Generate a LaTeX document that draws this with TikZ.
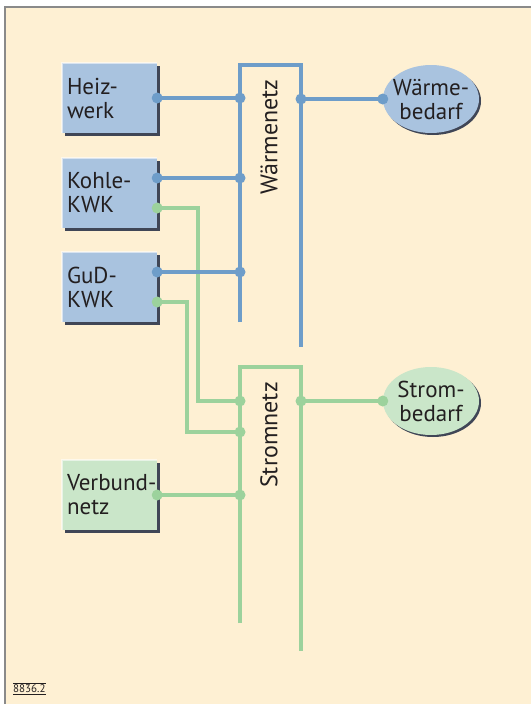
\documentclass[tikz,border=0pt]{standalone}
\usepackage{fontspec}
\setmainfont{PT Sans}
\usetikzlibrary{shapes.geometric,calc}
\definecolor{bgc}{HTML}{FEF0D3}
\definecolor{boxblue}{HTML}{A9C3DF}
\definecolor{boxgreen}{HTML}{CAE6C9}
\definecolor{lblue}{HTML}{6E9DC9}
\definecolor{lgreen}{HTML}{9CD29C}
\definecolor{shade}{HTML}{404656}
\definecolor{framec}{HTML}{8A8A8A}
\definecolor{txt}{HTML}{231F20}
\newcommand{\ctext}[1]{\smash{\makebox[0pt]{\raisebox{-10pt}{\begin{tabular}{@{}c@{}}#1\end{tabular}}}}}
\tikzset{
  unitbox/.style={rectangle, minimum width=95pt, minimum height=70pt, inner xsep=5pt,
    text width=85pt, align=left, text=txt, font=\fontsize{23}{24}\selectfont,
    preaction={fill=shade, transform canvas={xshift=2.5pt,yshift=-2.5pt}}},
  bluebox/.style={unitbox, fill=boxblue},
  greenbox/.style={unitbox, fill=boxgreen},
  need/.style={ellipse, minimum width=96pt, minimum height=68pt, inner sep=0pt,
    text=txt, font=\fontsize{23}{24}\selectfont,
    preaction={fill=shade, transform canvas={xshift=2pt,yshift=-2pt}}},
  netlabel/.style={rotate=90, text=txt, font=\fontsize{24}{24}\selectfont},
  hilite/.style={draw=white, draw opacity=0.55, line width=1.5pt},
  bline/.style={draw=lblue, line width=3.3pt},
  gline/.style={draw=lgreen, line width=3.3pt},
  bdot/.style={fill=lblue},
  gdot/.style={fill=lgreen},
}
\begin{document}
\begin{tikzpicture}[x=1pt,y=-1pt]
\useasboundingbox (0,0) rectangle (531,704);
\fill[white] (0,0) rectangle (531,704);
\fill[bgc] (5,7) rectangle (531,704);
\draw[framec, line width=1.5pt] (5,704) -- (5,7) -- (531,7);

% sources
\node[bluebox] (heiz) at (109.5,98) {\mbox{Heiz-}\\werk};
\node[bluebox] (kohle) at (109.5,193) {\mbox{Kohle-}\\KWK};
\node[bluebox] (gud) at (109.5,287) {\mbox{GuD-}\\KWK};
\node[greenbox] (verb) at (109.5,495) {\mbox{Verbund-}\\netz};
\foreach \b in {heiz,kohle,gud,verb}
  \draw[hilite] (\b.south west) -- (\b.north west) -- (\b.north east);

% demands
\node[need, fill=boxblue] (wbed) at (431,99) {\ctext{Wärme-\\bedarf}};
\node[need, fill=boxgreen] (sbed) at (431,401) {\ctext{Strom-\\bedarf}};

% net labels
\node[netlabel] (wnetz) at (269,137) {Wärmenetz};
\node[netlabel] (snetz) at (269,435) {Stromnetz};

% net bus coordinates
\coordinate (wlb) at (240,322);
\coordinate (wlt) at (240,65);
\coordinate (wrt) at (301,65);
\coordinate (wrb) at (301,347);
\coordinate (slb) at (240,623);
\coordinate (slt) at (240,367);
\coordinate (srt) at (301,367);
\coordinate (srb) at (301,651);

% connection points on boxes
\coordinate (kb) at ($(kohle.east)+(0,-15)$);
\coordinate (kg) at ($(kohle.east)+(0,15)$);
\coordinate (gb) at ($(gud.east)+(0,-15)$);
\coordinate (gg) at ($(gud.east)+(0,15)$);
\coordinate (kgx) at (198,208);
\coordinate (ggx) at (187,302);
\coordinate (kgs) at (240,401);
\coordinate (ggs) at (240,432);

% green (electricity)
\draw[gline] (slb) -- (slt) -- (srt) -- (srb);
\draw[gline] (kg) -- (kgx) |- (kgs);
\draw[gline] (gg) -- (ggx) |- (ggs);
\draw[gline] (verb.east) -- (verb.east -| slt);
\draw[gline] (sbed.west -| srt) -- (sbed.west);
\foreach \p in {kg, gg, kgs, ggs, verb.east, sbed.west}
  \fill[gdot] (\p) circle (5.5pt);
\fill[gdot] (verb.east -| slt) circle (5.5pt);
\fill[gdot] (sbed.west -| srt) circle (5.5pt);

% blue (heat)
\draw[bline] (wlb) -- (wlt) -- (wrt) -- (wrb);
\draw[bline] (heiz.east) -- (heiz.east -| wlt);
\draw[bline] (kb) -- (kb -| wlt);
\draw[bline] (gb) -- (gb -| wlt);
\draw[bline] (wbed.west -| wrt) -- (wbed.west);
\foreach \p in {heiz.east, kb, gb, wbed.west}
  \fill[bdot] (\p) circle (5.5pt);
\fill[bdot] (heiz.east -| wlt) circle (5.5pt);
\fill[bdot] (kb -| wlt) circle (5.5pt);
\fill[bdot] (gb -| wlt) circle (5.5pt);
\fill[bdot] (wbed.west -| wrt) circle (5.5pt);

% figure number
\node[anchor=west, inner xsep=0pt, inner ysep=1.5pt, text=txt, font=\fontsize{11}{12}\selectfont] (fig) at (13,689) {8836.2};
\draw[txt, line width=0.8pt] (fig.north west) -- (fig.north east);
\draw[txt, line width=0.8pt] (fig.south west) -- (fig.south east);
\end{tikzpicture}
\end{document}
